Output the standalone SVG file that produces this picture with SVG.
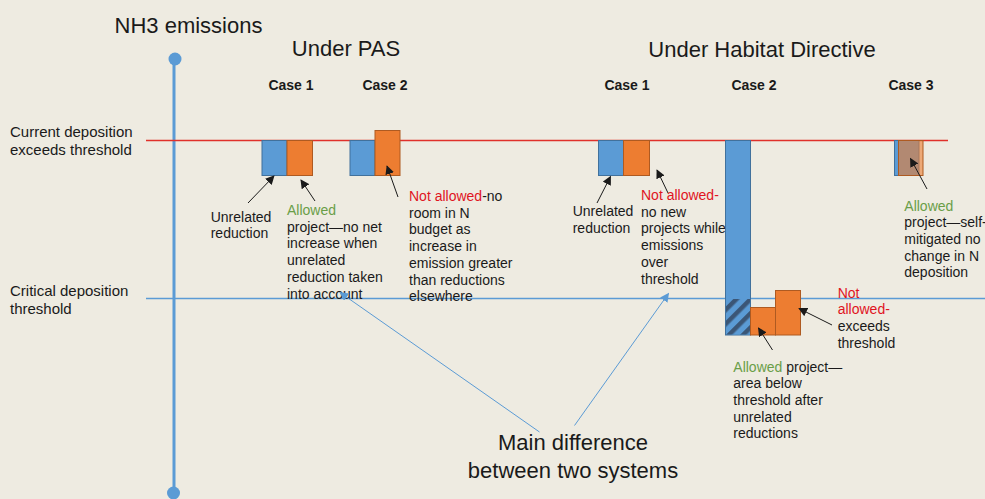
<svg xmlns="http://www.w3.org/2000/svg" width="985" height="499" viewBox="0 0 985 499">
<style>
text{font-family:"Liberation Sans",Arial,sans-serif;fill:#1a1a1a}
.big{font-size:22px}
.case{font-size:14px;font-weight:bold}
.side{font-size:15px}
.ann{font-size:14px}
.g{fill:#6A9E48}
.r{fill:#E0141E}
.blue{fill:#5B9BD5;stroke:#41719C;stroke-width:1}
.orange{fill:#ED7D31;stroke:#AE5A21;stroke-width:1}
.ptr{stroke:#1a1a1a;stroke-width:1;fill:none;marker-end:url(#ah)}
.bptr{stroke:#5B9BD5;stroke-width:1;fill:none;marker-end:url(#bh)}
</style>
<defs>
<marker id="ah" viewBox="0 0 10 10" refX="9" refY="5" markerWidth="9" markerHeight="9" markerUnits="userSpaceOnUse" orient="auto"><path d="M0,0L10,5L0,10z" fill="#1a1a1a"/></marker>
<marker id="bh" viewBox="0 0 10 10" refX="9" refY="5" markerWidth="9" markerHeight="9" markerUnits="userSpaceOnUse" orient="auto"><path d="M0,0L10,5L0,10z" fill="#5B9BD5"/></marker>
<pattern id="hatch" patternUnits="userSpaceOnUse" width="10" height="10" patternTransform="rotate(45)"><rect width="10" height="10" fill="#5B9BD5"/><rect width="4.5" height="10" fill="#3B5676"/></pattern>
</defs>
<rect width="985" height="499" fill="#EEEBE1"/>

<g id="axis">
<line x1="174" y1="59" x2="174" y2="493" stroke="#5B9BD5" stroke-width="3"/>
<circle cx="175" cy="59" r="6.5" fill="#5B9BD5"/>
<circle cx="173.5" cy="493" r="6.5" fill="#5B9BD5"/>
<text class="big" x="188.5" y="33" text-anchor="middle">NH3 emissions</text>
</g>

<g id="current-line">
<line x1="146" y1="140.5" x2="948" y2="140.5" stroke="#E0302A" stroke-width="1.3"/>
<text class="side" x="10" y="137">Current deposition</text>
<text class="side" x="10" y="155">exceeds threshold</text>
</g>

<g id="critical-line">
<line x1="146" y1="298.5" x2="985" y2="298.5" stroke="#5B9BD5" stroke-width="1.3"/>
<text class="side" x="10" y="296">Critical deposition</text>
<text class="side" x="10" y="314">threshold</text>
</g>

<g id="headers">
<text class="big" x="346" y="56" text-anchor="middle">Under PAS</text>
<text class="big" x="762" y="57" text-anchor="middle">Under Habitat Directive</text>
</g>

<g id="pas-case1">
<text class="case" x="291" y="90" text-anchor="middle">Case 1</text>
<rect class="blue" x="262" y="140.5" width="25" height="35"/>
<rect class="orange" x="287" y="140.5" width="25.5" height="35"/>
<text class="ann" x="210.7" y="221.7">Unrelated</text>
<text class="ann" x="210.7" y="238.3">reduction</text>
<text class="ann" x="287" y="215"><tspan class="g">Allowed</tspan><tspan x="287" dy="16.7">project—no net</tspan><tspan x="287" dy="16.7">increase when</tspan><tspan x="287" dy="16.7">unrelated</tspan><tspan x="287" dy="16.7">reduction taken</tspan><tspan x="287" dy="16.7">into account</tspan></text>
</g>

<g id="pas-case2">
<text class="case" x="385" y="90" text-anchor="middle">Case 2</text>
<rect class="blue" x="350" y="140.5" width="25" height="35"/>
<rect class="orange" x="375" y="130.5" width="25" height="45"/>
<text class="ann" x="409" y="201"><tspan class="r">Not allowed</tspan>-no<tspan x="409" dy="16.7">room in N</tspan><tspan x="409" dy="16.7">budget as</tspan><tspan x="409" dy="16.7">increase in</tspan><tspan x="409" dy="16.7">emission greater</tspan><tspan x="409" dy="16.7">than reductions</tspan><tspan x="409" dy="16.7">elsewhere</tspan></text>
</g>

<g id="hd-case1">
<text class="case" x="627" y="90" text-anchor="middle">Case 1</text>
<rect class="blue" x="598.5" y="140.5" width="25" height="35"/>
<rect class="orange" x="623.5" y="140.5" width="26" height="35"/>
<text class="ann" x="572.7" y="216">Unrelated</text>
<text class="ann" x="572.7" y="232.6">reduction</text>
<text class="ann" x="641" y="200"><tspan class="r">Not allowed-</tspan><tspan x="641" dy="16.7">no new</tspan><tspan x="641" dy="16.7">projects while</tspan><tspan x="641" dy="16.7">emissions</tspan><tspan x="641" dy="16.7">over</tspan><tspan x="641" dy="16.7">threshold</tspan></text>
</g>

<g id="hd-case2">
<text class="case" x="754" y="90" text-anchor="middle">Case 2</text>
<rect class="blue" x="725.5" y="140.5" width="25" height="194.5"/>
<rect x="726" y="299" width="24" height="35.5" fill="url(#hatch)"/>
<rect class="orange" x="750.5" y="307.5" width="25" height="27.5"/>
<rect class="orange" x="775.5" y="290.5" width="25" height="44.5"/>
<text class="ann r" x="837.7" y="297.7">Not</text>
<text class="ann r" x="837.7" y="314.4">allowed-</text>
<text class="ann" x="837.7" y="331.1">exceeds</text>
<text class="ann" x="837.7" y="347.8">threshold</text>
<text class="ann" x="733.3" y="371.7"><tspan class="g">Allowed</tspan> project—<tspan x="733.3" dy="16.6">area below</tspan><tspan x="733.3" dy="16.6">threshold after</tspan><tspan x="733.3" dy="16.6">unrelated</tspan><tspan x="733.3" dy="16.6">reductions</tspan></text>
</g>

<g id="hd-case3">
<text class="case" x="911" y="90" text-anchor="middle">Case 3</text>
<rect class="blue" x="894.5" y="140.5" width="24.5" height="35"/>
<rect x="898.5" y="140.5" width="24.5" height="35" fill="#ED7D31" fill-opacity="0.6" stroke="#AE5A21" stroke-width="1"/>
<text class="ann" x="904.3" y="210.7"><tspan class="g">Allowed</tspan><tspan x="904.3" dy="16.65">project—self-</tspan><tspan x="904.3" dy="16.65">mitigated no</tspan><tspan x="904.3" dy="16.65">change in N</tspan><tspan x="904.3" dy="16.65">deposition</tspan></text>
</g>

<g id="main-difference">
<text class="big" x="573" y="450" text-anchor="middle">Main difference</text>
<text class="big" x="573" y="478" text-anchor="middle">between two systems</text>
</g>

<g id="connectors">
<line class="ptr" x1="248" y1="203" x2="274" y2="176"/>
<line class="ptr" x1="315" y1="201" x2="301" y2="180"/>
<line class="ptr" x1="398" y1="197" x2="387" y2="166"/>
<line class="ptr" x1="597" y1="203" x2="610.5" y2="176.5"/>
<line class="ptr" x1="668" y1="193" x2="657" y2="170"/>
<line class="ptr" x1="772.5" y1="350" x2="758.5" y2="328"/>
<line class="ptr" x1="832" y1="325" x2="799" y2="308.5"/>
<line class="ptr" x1="927" y1="189" x2="910.5" y2="158.5"/>
<line class="bptr" x1="539.5" y1="432" x2="340" y2="292.5"/>
<line class="bptr" x1="574.5" y1="425.5" x2="668.5" y2="293.5"/>
</g>
</svg>
